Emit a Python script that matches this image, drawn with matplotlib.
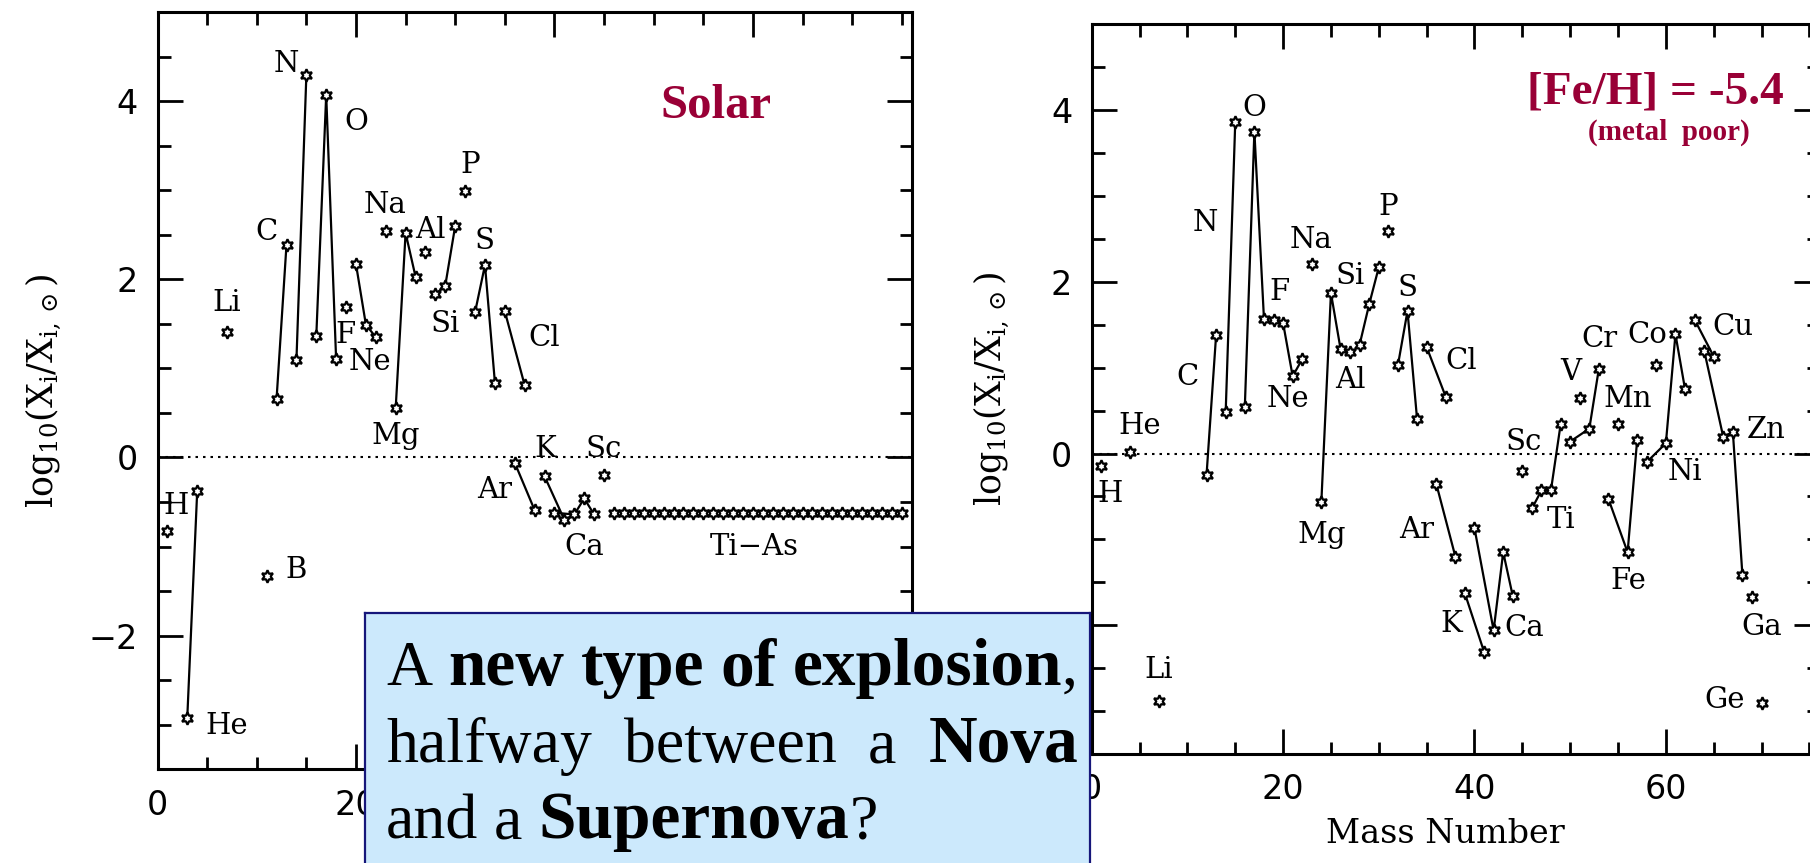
import matplotlib
matplotlib.use("Agg")
import matplotlib.pyplot as plt
from matplotlib.ticker import MultipleLocator

# ====== DATA ======
# Solar-scaled abundances, log10(X_i / X_i,sun) against mass number
solar_mass = [1, 3, 4, 7, 11, 12, 13, 14, 15, 16, 17, 18, 19, 20, 21, 22, 23,
              24, 25, 26, 27, 28, 29, 30, 31, 32, 33, 34, 35, 37, 36, 38,
              39, 41, 40, 42, 43, 44, 45]
solar_logx = [-0.82, -2.92, -0.38, 1.41, -1.33, 0.66, 2.39, 1.09, 4.29, 1.36,
              4.07, 1.10, 1.69, 2.17, 1.49, 1.35, 2.54, 0.55, 2.52, 2.03,
              2.31, 1.83, 1.93, 2.60, 2.99, 1.63, 2.16, 0.84, 1.64, 0.81,
              -0.06, -0.59, -0.21, -0.70, -0.62, -0.64, -0.46, -0.64, -0.20]
solar_elem = ["H", "He", "He", "Li", "B", "C", "C", "N", "N", "O", "O", "O",
              "F", "Ne", "Ne", "Ne", "Na", "Mg", "Mg", "Mg", "Al", "Si", "Si",
              "Si", "P", "S", "S", "S", "Cl", "Cl", "Ar", "Ar", "K", "K",
              "Ca", "Ca", "Ca", "Ca", "Sc"]

# Ti to As, all sitting at the same level
solar_tias_mass = [46, 47, 48, 49, 50, 51, 52, 53, 54, 55, 56, 57, 58, 59, 60,
                   61, 62, 63, 64, 65, 66, 67, 68, 69, 70, 71, 72, 73, 74, 75]
solar_tias_logx = [-0.62, -0.62, -0.62, -0.62, -0.62, -0.62, -0.62, -0.62,
                   -0.62, -0.62, -0.62, -0.62, -0.62, -0.62, -0.62, -0.62,
                   -0.62, -0.62, -0.62, -0.62, -0.62, -0.62, -0.62, -0.62,
                   -0.62, -0.62, -0.62, -0.62, -0.62, -0.62]

# Metal poor case, [Fe/H] = -5.4
poor_mass = [1, 4, 7, 12, 13, 14, 15, 16, 17, 18, 19, 20, 21, 22, 23, 24, 25,
             26, 27, 28, 29, 30, 31, 32, 33, 34, 35, 37, 36, 38, 39, 41, 40,
             42, 43, 44, 45, 46, 47, 48, 49, 51, 50, 52, 53, 55, 54, 56, 57,
             59, 58, 60, 61, 62, 63, 65, 64, 66, 67, 68, 69, 70]
poor_logx = [-0.14, 0.02, -2.88, -0.25, 1.38, 0.48, 3.86, 0.54, 3.75, 1.57,
             1.55, 1.52, 0.90, 1.10, 2.21, -0.56, 1.87, 1.22, 1.18, 1.27,
             1.74, 2.17, 2.59, 1.03, 1.66, 0.40, 1.24, 0.66, -0.35, -1.20,
             -1.63, -2.31, -0.87, -2.06, -1.15, -1.66, -0.20, -0.64, -0.43,
             -0.42, 0.34, 0.65, 0.14, 0.29, 0.99, 0.34, -0.53, -1.15, 0.16,
             1.03, -0.10, 0.12, 1.39, 0.75, 1.56, 1.13, 1.20, 0.19, 0.25,
             -1.42, -1.67, -2.91]
poor_elem = ["H", "He", "Li", "C", "C", "N", "N", "O", "O", "O", "F", "Ne",
             "Ne", "Ne", "Na", "Mg", "Mg", "Mg", "Al", "Si", "Si", "Si", "P",
             "S", "S", "S", "Cl", "Cl", "Ar", "Ar", "K", "K", "Ca", "Ca",
             "Ca", "Ca", "Sc", "Ti", "Ti", "Ti", "Ti", "V", "Cr", "Cr", "Cr",
             "Mn", "Fe", "Fe", "Fe", "Co", "Ni", "Ni", "Ni", "Ni", "Cu", "Cu",
             "Zn", "Zn", "Zn", "Zn", "Ga", "Ge"]

# ====== STYLE ======
W, H = 1810, 863
DARK_RED = "#990036"
LABEL_FONT = "DejaVu Serif"
plt.rcParams["mathtext.fontset"] = "dejavuserif"

star = (6, 1, 0)
star_kw = dict(marker=star, markersize=9, markerfacecolor="white",
               markeredgecolor="black", markeredgewidth=1.6, linestyle="none",
               zorder=4)
YLABEL = r"$\mathrm{log_{10}(X_i/X_{i,\odot})}$"


def draw_panel(ax, mass, logx, elem):
    # join isotopes of one element
    start = 0
    for i in range(1, len(mass) + 1):
        if i == len(mass) or elem[i] != elem[start]:
            if i - start > 1:
                ax.plot(mass[start:i], logx[start:i], color="black", lw=1.6,
                        zorder=3)
            start = i
    ax.plot(mass, logx, **star_kw)
    ax.axhline(0, color="black", lw=1.5, linestyle=(0, (1.2, 2.4)), zorder=1)

    ax.set_xlim(0, 76)
    ax.set_ylim(-3.5, 5)
    ax.xaxis.set_major_locator(MultipleLocator(20))
    ax.xaxis.set_minor_locator(MultipleLocator(5))
    ax.yaxis.set_major_locator(MultipleLocator(2))
    ax.yaxis.set_minor_locator(MultipleLocator(0.5))
    ax.tick_params(which="both", direction="in", top=True, right=True,
                   width=2, labelsize=24, pad=14)
    ax.tick_params(which="major", length=18)
    ax.tick_params(which="minor", length=9)
    for sp in ax.spines.values():
        sp.set_linewidth(2.2)
    ax.set_ylabel(YLABEL, fontsize=25)
    ax.set_xlabel("Mass Number", fontsize=24, family=LABEL_FONT)


def put_labels(ax, labels):
    for text, x, y in labels:
        ax.text(x, y, text, fontsize=21, family=LABEL_FONT, ha="center",
                va="center", zorder=5)


fig = plt.figure(figsize=(W / 100, H / 100), dpi=100)

# ====== LEFT PANEL: SOLAR ======
ax1 = fig.add_axes([157.5 / W, 1 - 769.3 / H, 754.2 / W, 757.3 / H])
draw_panel(ax1, solar_mass, solar_logx, solar_elem)
ax1.plot(solar_tias_mass, solar_tias_logx, **star_kw)
put_labels(ax1, [
    ("H", 1.9, -0.55), ("He", 7.0, -3.01), ("Li", 7.0, 1.73),
    ("B", 14.0, -1.26), ("C", 11.0, 2.53), ("N", 13.0, 4.42),
    ("O", 20.0, 3.77), ("F", 18.9, 1.37), ("Ne", 21.4, 1.07),
    ("Na", 22.9, 2.83), ("Mg", 24.0, 0.24), ("Al", 27.5, 2.55),
    ("Si", 29.0, 1.50), ("P", 31.5, 3.28), ("S", 33.0, 2.43),
    ("Cl", 39.0, 1.34), ("Ar", 34.0, -0.36), ("K", 39.1, 0.09),
    ("Sc", 45.0, 0.09), ("Ca", 43.0, -1.0), ("Ti\u2212As", 60.1, -1.0),
])
ax1.text(56.3, 3.94, "Solar", fontsize=35, fontweight="bold",
         family="Liberation Serif", color=DARK_RED, ha="center", va="center")
ax1.yaxis.set_label_coords(-0.124, 0.5)
ax1.xaxis.set_label_coords(0.5, -0.085)

# ====== RIGHT PANEL: METAL POOR ======
ax2 = fig.add_axes([1091.7 / W, 1 - 754 / H, 727.3 / W, 729.7 / H])
draw_panel(ax2, poor_mass, poor_logx, poor_elem)
put_labels(ax2, [
    ("H", 1.9, -0.47), ("He", 5.0, 0.32), ("Li", 7.0, -2.52),
    ("C", 10.0, 0.89), ("N", 11.9, 2.68), ("O", 17.0, 4.02),
    ("F", 19.6, 1.88), ("Ne", 20.5, 0.63), ("Na", 22.9, 2.49),
    ("Mg", 24.0, -0.95), ("Al", 27.0, 0.86), ("Si", 27.0, 2.07),
    ("P", 31.0, 2.87), ("S", 33.0, 1.93), ("Cl", 38.6, 1.08),
    ("Ar", 34.0, -0.89), ("K", 37.6, -1.98), ("Ca", 45.2, -2.03),
    ("Sc", 45.1, 0.14), ("Ti", 49.0, -0.77), ("V", 50.1, 0.95),
    ("Cr", 53.1, 1.34), ("Mn", 56.0, 0.64), ("Fe", 56.1, -1.48),
    ("Co", 58.1, 1.38), ("Ni", 62.0, -0.21), ("Cu", 67.0, 1.47),
    ("Zn", 70.5, 0.27), ("Ga", 70.0, -2.02), ("Ge", 66.1, -2.87),
])
ax2.text(58.9, 4.21, "[Fe/H] = -5.4", fontsize=34, fontweight="bold",
         family="Liberation Serif", color=DARK_RED, ha="center", va="center")
ax2.text(60.3, 3.74, "(metal  poor)", fontsize=21, fontweight="bold",
         family="Liberation Serif", color=DARK_RED, ha="center", va="center")
ax2.yaxis.set_label_coords(-0.11, 0.5)
ax2.xaxis.set_label_coords(0.486, -0.088)

# ====== TEXT BOX ======
box = fig.add_axes([365 / W, -0.02, 725 / W, 1 - 613 / H + 0.02])
box.set_facecolor("#cce9fc")
box.set_xticks([])
box.set_yticks([])
for sp in box.spines.values():
    sp.set_color("#16167a")
    sp.set_linewidth(1.6)

box_lines = [
    ([[("A", False)], [("new", True)], [("type", True)], [("of", True)],
      [("explosion", True), (",", False)]], True),
    ([[("halfway", False)], [("between", False)], [("a", False)],
      [("Nova", True)]], True),
    ([[("and", False)], [("a", False)], [("Supernova", True), ("?", False)]],
     False),
]
plain_size, bold_size = 46, 48.5
text_left, text_right = 386, 1078
baselines = [685, 762, 838]
space_px = 0.25 * plain_size * 100 / 72

fig.canvas.draw()
renderer = fig.canvas.get_renderer()
for (words, justify), base in zip(box_lines, baselines):
    pieces = []
    widths = []
    for word in words:
        arts = []
        wsum = 0
        for frag, bold in word:
            t = fig.text(0, 1 - base / H, frag,
                         fontsize=bold_size if bold else plain_size,
                         family="Liberation Serif",
                         fontweight="bold" if bold else "normal",
                         va="baseline", ha="left")
            w = t.get_window_extent(renderer).width
            arts.append((t, w))
            wsum += w
        pieces.append(arts)
        widths.append(wsum)
    if justify and len(words) > 1:
        gap = (text_right - text_left - sum(widths)) / (len(words) - 1)
    else:
        gap = space_px
    x = text_left
    for arts, wsum in zip(pieces, widths):
        xx = x
        for t, w in arts:
            t.set_x(xx / W)
            xx += w
        x += wsum + gap

fig.savefig("out.png", dpi=100)
